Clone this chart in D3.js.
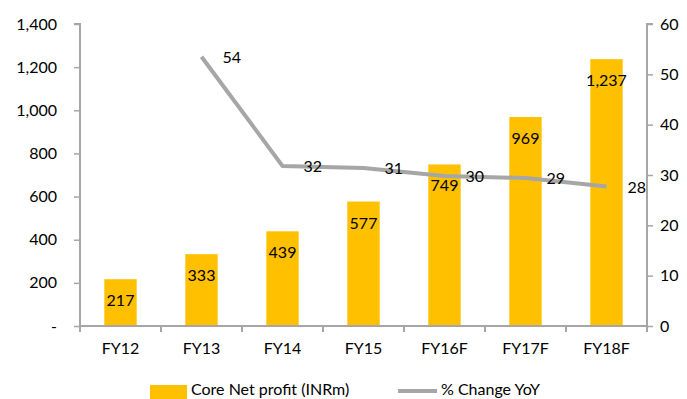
<!DOCTYPE html>
<html>
<head>
<meta charset="utf-8">
<script src="https://cdn.jsdelivr.net/npm/d3@7/dist/d3.min.js"></script>
<style>
  html, body { margin: 0; padding: 0; background: #fff; }
  svg { display: block; font-family: Lato, "Open Sans", sans-serif; }
</style>
</head>
<body>
<svg id="chart" width="687" height="399"></svg>
<script>
// Fiscal years and series
const categories = ["FY12", "FY13", "FY14", "FY15", "FY16F", "FY17F", "FY18F"];
const profit = [217, 333, 439, 577, 749, 969, 1237];            // Core Net profit (INRm)
const change = [null, 53.5, 31.8, 31.4, 29.8, 29.4, 27.7];     // % Change YoY
const leftTicks = [0, 200, 400, 600, 800, 1000, 1200, 1400];
const rightTicks = [0, 10, 20, 30, 40, 50, 60];
const seriesNames = ["Core Net profit (INRm)", "% Change YoY"];

const barColor = "#FFC000";
const lineColor = "#A6A6A6";
const axisColor = "#A6A6A6";

const svg = d3.select("#chart");
const m = { left: 80, right: 647, top: 24, bottom: 326 };

const x = d3.scaleBand().domain(categories).range([m.left, m.right])
  .paddingInner(0.6).paddingOuter(0.3);
const yL = d3.scaleLinear().domain([0, 1400]).range([m.bottom, m.top]);
const yR = d3.scaleLinear().domain([0, 60]).range([m.bottom, m.top]);
const step = x.step();

const fmtL = v => v === 0 ? "-" : d3.format(",")(v);

// Bars
svg.append("g").selectAll("rect").data(profit).join("rect")
  .attr("x", (d, i) => x(categories[i]))
  .attr("y", d => yL(d))
  .attr("width", x.bandwidth())
  .attr("height", d => yL(0) - yL(d))
  .attr("fill", barColor);

// Left axis
const gL = svg.append("g").attr("transform", `translate(${m.left},0)`)
  .call(d3.axisLeft(yL).tickValues(leftTicks).tickFormat(fmtL).tickSize(6).tickPadding(17));
// Right axis
const gR = svg.append("g").attr("transform", `translate(${m.right},0)`)
  .call(d3.axisRight(yR).tickValues(rightTicks).tickSize(6).tickPadding(7));
// Category axis with ticks on band boundaries
const gX = svg.append("g").attr("transform", `translate(0,${m.bottom})`)
  .call(d3.axisBottom(x).tickSize(0).tickPadding(17));
gX.selectAll(".bound").data(d3.range(categories.length + 1)).join("line")
  .attr("class", "bound")
  .attr("x1", i => m.left + i * step).attr("x2", i => m.left + i * step)
  .attr("y1", 0).attr("y2", 6)
  .attr("stroke", axisColor).attr("stroke-width", 2);

[gL, gR, gX].forEach(g => {
  g.select(".domain").attr("stroke", axisColor).attr("stroke-width", 2);
  g.selectAll(".tick line").attr("stroke", axisColor).attr("stroke-width", 1.5);
  g.selectAll("text").attr("fill", "#000").style("font-size", "16px")
    .style("font-family", "Lato, 'Open Sans', sans-serif");
});
gL.select(".domain").attr("d", `M-6,${m.top}H0V${m.bottom}`);
gR.select(".domain").attr("d", `M6,${m.top}H0V${m.bottom}`);
gX.select(".domain").attr("d", `M${m.left},0H${m.right}`);

// Bar value labels
svg.append("g").selectAll("text").data(profit).join("text")
  .attr("x", (d, i) => x(categories[i]) + x.bandwidth() / 2)
  .attr("y", d => yL(d) + 27)
  .attr("text-anchor", "middle")
  .style("font-size", "16px")
  .text(d => d3.format(",")(d));

// YoY line
const pts = change.map((v, i) => ({ v, c: categories[i] })).filter(p => p.v !== null);
const line = d3.line().x(p => x(p.c) + x.bandwidth() / 2).y(p => yR(p.v));
svg.append("path").datum(pts)
  .attr("d", line).attr("fill", "none")
  .attr("stroke", lineColor).attr("stroke-width", 4)
  .attr("stroke-linejoin", "round");

svg.append("g").selectAll("text").data(pts).join("text")
  .attr("x", p => x(p.c) + x.bandwidth() / 2 + 21)
  .attr("y", p => yR(p.v) + 6)
  .style("font-size", "16px")
  .text(p => d3.format(".0f")(p.v));

// Legend
const lg = svg.append("g");
lg.append("rect").attr("x", 150).attr("y", 385).attr("width", 37).attr("height", 14).attr("fill", barColor);
lg.append("text").attr("x", 191).attr("y", 395).style("font-size", "16px").text(seriesNames[0]);
lg.append("line").attr("x1", 398).attr("x2", 437).attr("y1", 391).attr("y2", 391)
  .attr("stroke", lineColor).attr("stroke-width", 4);
lg.append("text").attr("x", 441).attr("y", 395).style("font-size", "16px").text(seriesNames[1]);
</script>
</body>
</html>
